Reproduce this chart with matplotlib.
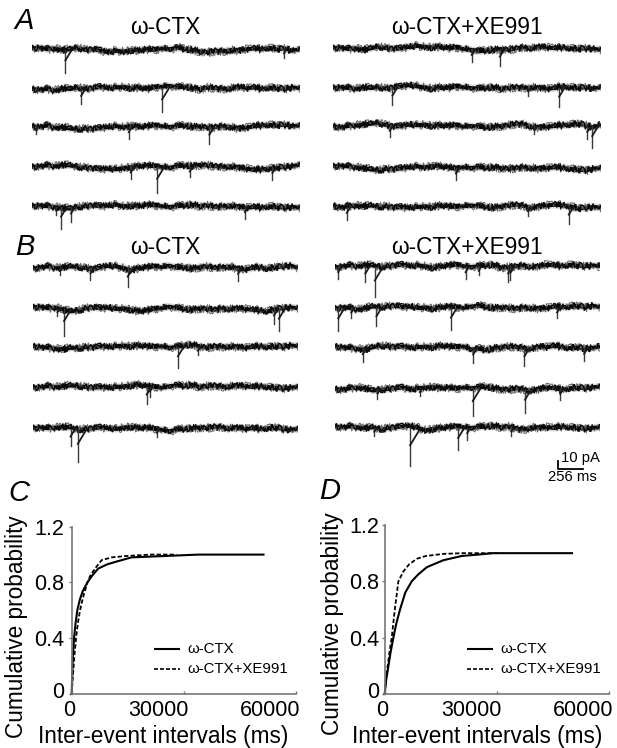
import numpy as np
import matplotlib
matplotlib.use("Agg")
import matplotlib.pyplot as plt
from matplotlib.transforms import ScaledTranslation

plt.rcParams['font.family'] = ['Liberation Sans', 'DejaVu Sans']

W, H = 617, 748
SWEEP_MS = 2770
PA_PER_PX = 1.3

# baseline of each sweep, pA, read along the sweep
A_CTX_BASE = [
    [2, 3, 1, 2, 0, 1, 3, 0, 1, -1, -3, -1, -2, 0, -1, 1, 0, 2, 1, 3, 1, 0, -2, -3, -1, -2, 0, -1, 1, 2, 1, 3, 1, 2, -1, 1],
    [0, -1, 0, -2, 1, 0, 2, 0, 1, 3, 1, 2, 3, 1, 2, 0, 2, 3, 4, 2, 3, 1, 0, 2, 1, 0, 1, 3, 1, 2, 0, 2, 1, 0, 2, 1],
    [1, 0, 2, -1, 0, -2, -3, -2, -3, -1, 0, 1, 0, 2, 0, 1, 2, 1, 0, 1, 2, 0, 1, -1, 0, 1, 0, -2, -1, 1, 2, 3, 2, 3, 1, 2],
    [0, 1, 2, 1, 3, 2, 0, -1, -2, -3, -2, -3, -1, 0, 1, 2, 1, 0, -1, 1, 2, 1, 3, 2, 1, 0, 1, -1, -2, -4, -3, -2, -1, 0, 1, 3],
    [1, 2, 1, 0, -1, -2, 0, 1, 2, 1, 2, 3, 1, 2, 1, 3, 2, 1, 0, 1, 2, 3, 1, 2, 0, 1, 2, 0, -1, 0, -1, 1, 0, -1, 0, -1],
]
A_XE_BASE = [
    [1, 2, 0, 1, -1, 1, 3, 1, 0, 1, 3, 4, 3, 2, 3, 1, 2, 0, -1, -3, -2, -1, 0, -1, 1, 2, 1, 3, 2, 1, 2, 1, 0, 1, 0, -1],
    [0, 1, 0, -1, 1, 0, 1, -1, 1, 2, 4, 2, 1, -1, 1, 0, 2, 1, 0, -1, 0, 1, -1, 0, 1, 0, 1, 0, -1, 0, 2, 1, 0, 1, -1, 1],
    [0, -2, 0, 1, 2, 3, 4, 1, -1, 0, 2, 1, 2, 0, 1, 0, 1, -1, 0, -1, -2, -1, 0, 1, 3, 2, -1, -2, -1, 0, 1, 2, 3, 1, -2, 2],
    [2, 3, 2, 1, 0, -2, -3, -1, -2, 0, 1, 2, 1, 3, 2, 1, -1, 1, 0, 1, 0, 1, 0, -1, 0, 1, 0, -1, 0, 1, 0, -1, -2, -3, -1, 0],
    [2, -1, 1, 2, 1, 2, 0, 1, -1, 0, -1, 0, 1, 0, 2, 1, 0, 1, 2, 1, 0, -1, 1, 2, 3, 1, -1, 1, 2, 3, 2, 1, -2, -1, 0, -1],
]
B_CTX_BASE = [
    [-1, 1, 2, 0, 1, 2, 1, 0, -2, 1, 3, 2, 0, -3, 0, 1, 2, 1, 3, 0, 1, -1, 1, 2, 0, 1, 2, -1, -2, 0, 1, -1, 1, 2, 3, 0],
    [2, 3, 1, 2, -1, -3, -2, 1, 2, 1, 2, 0, 1, -1, -3, -2, 0, 1, 3, 1, 0, -1, 1, 0, -1, 1, 0, 1, 0, -1, -2, -3, 0, 1, 2, 1],
    [1, 0, -1, -2, -3, -1, -2, 0, -1, 1, 0, 1, 2, 1, 2, 1, 0, 1, -1, 0, 2, 3, 1, -1, 1, 0, 1, 0, -1, 0, 1, 0, 1, 0, 2, 1],
    [-1, 0, 1, 0, 1, 2, 1, 0, -1, 0, -1, 0, 1, 2, 3, 1, 0, -1, 1, 2, 1, 3, 0, 1, 2, 0, 1, 2, 1, 0, 1, 0, -1, -2, -1, 0],
    [1, 2, 1, 2, 3, 2, -1, 0, 1, 2, 1, 0, 2, 3, 1, 2, 0, -1, -3, -1, 0, 1, 2, 1, 3, 2, 1, 2, 0, 1, 0, 1, 2, 0, -1, 0],
]
B_XE_BASE = [
    [-1, 1, 2, 1, 3, 2, 0, 1, 2, 3, 1, 2, 1, -1, 1, 2, 3, 1, 0, 1, 2, 3, -1, 0, 1, 2, 0, 1, 3, 2, 1, 3, 2, 1, 2, 1],
    [-1, 1, 0, -2, 0, 2, 1, 2, 3, 1, 2, 0, 1, -1, 1, 2, 1, 0, 2, 3, 1, 0, 1, 0, -1, 1, 0, -1, 0, 2, 1, 2, 3, 1, 3, 1],
    [2, 1, 0, -1, -2, 1, 3, 2, 1, 2, 0, 1, 2, 1, 3, 2, 1, 2, -2, -1, -3, 0, 1, 2, 1, 0, -1, 2, 1, 3, 1, 0, 1, -1, 0, 2],
    [0, -1, 1, 2, 1, -2, -1, 0, 1, 2, -1, 1, 2, 3, 1, 2, 0, 2, 1, 2, 3, 1, 0, -1, 1, -1, -2, 0, 2, 1, -1, 1, 2, 1, 2, 3],
    [2, 1, 2, 1, 0, 1, -2, 0, 1, 2, 3, 0, -3, -1, 0, 1, 2, 1, 0, 1, 2, 3, 1, 2, -1, -2, 1, 0, 1, 0, 2, 1, 0, -1, 0, 1],
]

# synaptic events of each sweep, (time ms, amplitude pA)
A_CTX_EVENTS = [
    [(345, 30), (2604, 10)],
    [(508, 20), (1345, 30)],
    [(38, 9), (1000, 15), (1833, 22)],
    [(1020, 16), (1293, 34), (1631, 13), (2485, 17)],
    [(250, 11), (300, 28), (403, 19), (2201, 15)],
]
A_XE_EVENTS = [
    [(1433, 17), (1724, 22)],
    [(614, 22), (2020, 10), (2338, 25)],
    [(587, 14), (2082, 11), (2628, 17), (2679, 29)],
    [(1270, 16)],
    [(143, 17), (2014, 12), (2437, 22)],
]
B_CTX_EVENTS = [
    [(283, 9), (601, 16), (990, 25), (2143, 17)],
    [(256, 9), (324, 35), (2519, 19), (2570, 28)],
    [(1515, 27), (1724, 11)],
    [(1188, 22), (1222, 13)],
    [(392, 22), (468, 43), (1297, 10)],
]
B_XE_EVENTS = [
    [(34, 15), (317, 19), (416, 39), (1365, 15), (1502, 11), (1809, 19), (1833, 17)],
    [(34, 30), (171, 13), (433, 24), (1212, 28), (2321, 13)],
    [(290, 18), (1444, 19), (1980, 24), (2604, 17)],
    [(444, 13), (887, 9), (1440, 35), (1986, 31), (2355, 14)],
    [(410, 11), (785, 50), (1287, 29), (1382, 15), (1843, 10)],
]

# cumulative curves
C_CTX_T = [0, 150, 300, 625, 1000, 1500, 2200, 3000, 4200, 5500, 7100, 9500, 12000, 16000, 25000, 34000, 51300]
C_CTX_P = [0, 0.15, 0.27, 0.4, 0.5, 0.6, 0.68, 0.74, 0.8, 0.85, 0.9, 0.93, 0.95, 0.98, 0.99, 1.0, 1.0]
C_XE_T = [0, 300, 700, 1160, 1600, 2230, 3000, 4200, 5000, 6250, 8000, 10700, 14700, 21000, 28000]
C_XE_P = [0, 0.12, 0.27, 0.4, 0.5, 0.6, 0.69, 0.8, 0.85, 0.9, 0.96, 0.98, 0.99, 1.0, 1.0]
D_CTX_T = [0, 400, 1000, 1600, 2320, 3100, 4100, 5500, 7230, 9000, 11250, 13000, 15700, 20600, 25000, 29000, 50100]
D_CTX_P = [0, 0.1, 0.2, 0.3, 0.4, 0.5, 0.6, 0.72, 0.8, 0.85, 0.9, 0.92, 0.95, 0.98, 0.99, 1.0, 1.0]
D_XE_T = [0, 300, 800, 1300, 1875, 2700, 3660, 5000, 6500, 8570, 11000, 15700, 21000, 30000]
D_XE_P = [0, 0.1, 0.2, 0.3, 0.4, 0.6, 0.8, 0.87, 0.92, 0.96, 0.98, 0.995, 1.0, 1.0]

X_TICKS = [0, 30000, 60000]
Y_TICKS = [0, 0.4, 0.8, 1.2]
Y_TICK_LABELS = ['0', '0.4', '0.8', '1.2']

fig = plt.figure(figsize=(W / 100, H / 100), dpi=100)


def px_axes(left, top, right, bottom):
    return fig.add_axes([left / W, 1 - bottom / H, (right - left) / W, (bottom - top) / H])


def px_text(x, y, s, **kw):
    kw.setdefault('ha', 'center')
    kw.setdefault('va', 'center')
    fig.text(x / W, 1 - y / H, s, **kw)


def draw_sweep(left, right, centre, base, events):
    ax = px_axes(left, centre - 50, right, centre + 50)
    ax.set_xlim(0, SWEEP_MS)
    ax.set_ylim(-50 * PA_PER_PX, 50 * PA_PER_PX)
    ax.axis('off')
    t = np.linspace(0, SWEEP_MS, len(base))
    # noise band: the values stay the read ones, only the strokes get rough
    ax.plot(t, base, color='#8a8a8a', lw=5.2, alpha=0.3, solid_capstyle='butt')
    ax.plot(t, base, color='#050505', lw=2.9, solid_capstyle='butt')
    fuzz, = ax.plot(t, base, color='#666666', lw=0.7, solid_capstyle='butt')
    fuzz.set_sketch_params(scale=4.4, length=0.35, randomness=3)
    fuzz2, = ax.plot(t, base, color='#0a0a0a', lw=1.0, solid_capstyle='butt')
    fuzz2.set_sketch_params(scale=3.2, length=0.25, randomness=5)
    for when, amp in events:
        ax.plot([when, when], [0, -amp], color='#3a3a3a', lw=1.0)
        ax.plot([when, when + 2.2 * amp], [-amp * 0.45, 0], color='#1a1a1a', lw=1.3)


def draw_block(left, right, centres, bases, events):
    for centre, base, ev in zip(centres, bases, events):
        draw_sweep(left, right, centre, base, ev)


draw_block(32, 300, [50, 89, 127, 167, 207], A_CTX_BASE, A_CTX_EVENTS)
draw_block(333, 601, [49, 88, 126, 168, 207], A_XE_BASE, A_XE_EVENTS)
draw_block(33, 298, [268, 309, 347, 387, 429], B_CTX_BASE, B_CTX_EVENTS)
draw_block(335, 600, [267, 308, 348, 389, 428], B_XE_BASE, B_XE_EVENTS)

px_text(165, 27, 'ω-CTX', fontsize=16.3)
px_text(467, 27, 'ω-CTX+XE991', fontsize=16.3)
px_text(165, 248, 'ω-CTX', fontsize=16.3)
px_text(467, 248, 'ω-CTX+XE991', fontsize=16.3)
px_text(24, 21, 'A', fontsize=21, style='italic')
px_text(25, 247, 'B', fontsize=21, style='italic')
px_text(19, 493, 'C', fontsize=21, style='italic')
px_text(330, 491, 'D', fontsize=21, style='italic')

# scale bar
bar = px_axes(558, 461, 583, 468.5)
bar.set_xlim(0, 256)
bar.set_ylim(0, 10)
bar.axis('off')
bar.plot([0, 0, 256], [10, 0, 0], color='black', lw=1.3, clip_on=False)
px_text(580, 458, '10 pA', fontsize=10.7)
px_text(572, 477, '256 ms', fontsize=10.7)


def draw_cdf(left, right, top, bottom, ctx_t, ctx_p, xe_t, xe_p, ylab_x, ylab_y, xlab_x, leg_x, y_pad):
    ax = px_axes(left, top, right, bottom)
    ax.plot(ctx_t, ctx_p, color='black', lw=1.5, clip_on=False)
    ax.plot(xe_t, xe_p, color='black', lw=1.3, ls=(0, (2.4, 1.2)), clip_on=False)
    ax.set_xlim(0, 60000)
    ax.set_ylim(0, 1.2)
    ax.set_xticks(X_TICKS)
    ax.set_yticks(Y_TICKS)
    ax.set_yticklabels(Y_TICK_LABELS)
    ax.tick_params(axis='x', direction='in', length=2.5, width=1, color='#777777', labelsize=15.5, pad=4.5)
    ax.tick_params(axis='y', direction='out', length=2.2, width=1, color='#777777', labelsize=15.5, pad=y_pad)
    # in the reference the long x labels sit left of their ticks
    labels = ax.get_xticklabels()
    labels[0].set_transform(labels[0].get_transform() + ScaledTranslation(-2 / 72, 0, fig.dpi_scale_trans))
    for lab in labels[1:]:
        lab.set_ha('right')
        lab.set_transform(lab.get_transform() + ScaledTranslation(3.2 / 72, 0, fig.dpi_scale_trans))
    zero = ax.get_yticklabels()[0]
    zero.set_transform(zero.get_transform() + ScaledTranslation(0, 3 / 72, fig.dpi_scale_trans))
    for side in ['top', 'right']:
        ax.spines[side].set_visible(False)
    for side in ['left', 'bottom']:
        ax.spines[side].set_color('#777777')
        ax.spines[side].set_linewidth(1.2)
    px_text(ylab_x, ylab_y, 'Cumulative probability', fontsize=16.3, rotation=90)
    px_text(xlab_x, 737, 'Inter-event intervals (ms)', fontsize=16.3)
    key = px_axes(leg_x, 640, leg_x + 26, 670)
    key.set_xlim(0, 1)
    key.set_ylim(0, 1)
    key.axis('off')
    key.plot([0, 1], [0.7, 0.7], color='black', lw=1.5)
    key.plot([0, 1], [0.033, 0.033], color='black', lw=1.2, ls=(0, (2.4, 1.2)))
    px_text(leg_x + 33, 649, 'ω-CTX', fontsize=10.8, ha='left')
    px_text(leg_x + 33, 669, 'ω-CTX+XE991', fontsize=10.8, ha='left')


draw_cdf(71.7, 296, 526.7, 694, C_CTX_T, C_CTX_P, C_XE_T, C_XE_P, 17, 627, 163, 154, 3.4)
draw_cdf(384.7, 609, 525, 694, D_CTX_T, D_CTX_P, D_XE_T, D_XE_P, 333, 624, 477, 467, 1.6)

fig.savefig('out.png', dpi=100)
